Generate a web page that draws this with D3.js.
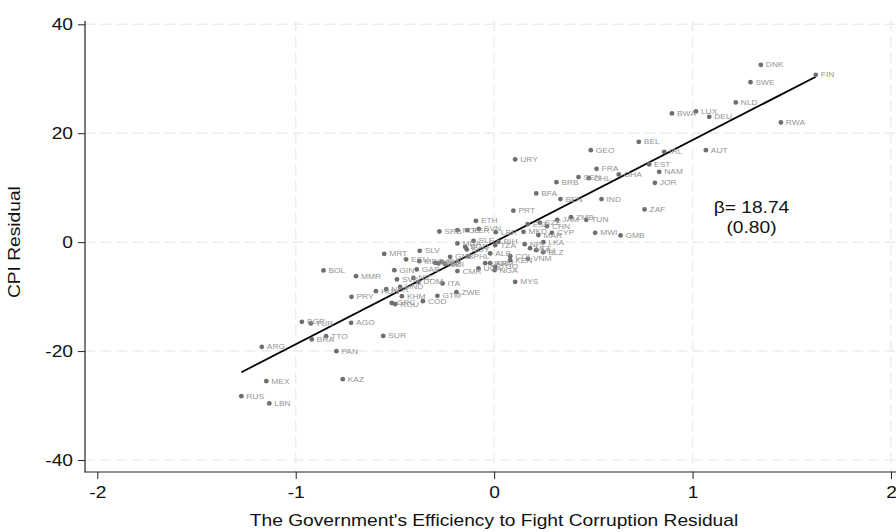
<!DOCTYPE html>
<html>
  <head>
    <meta charset="UTF-8">
    <title>CPI Residual vs Government Efficiency Residual</title>
    <style>
      body { margin: 0; background: #fff; }
      svg { display: block; font-family: "Liberation Sans", Arial, sans-serif; }
    </style>
  </head>
  <body>
    <svg></svg>
    <script src="https://d3js.org/d3.v7.min.js"></script>
    <script>

// country codes and their residuals
var countries = ["DNK","FIN","SWE","NLD","BWA","LUX","DEU","RWA","BEL","IRL","AUT","EST","NAM","GHA","JOR",
  "URY","GEO","FRA","SEN","CHL","BRB","BFA","BEN","IND","ZAF","PRT","ZMB","JAM","TUN","MWI","GMB",
  "ESP","CZE","CHN","LBR","MKD","MAR","CYP","LKA","NPL","MLT","MLI","BLZ","VNM","KEN","COL","ALB",
  "UGA","UKR","ARM","TGO","NGA","CMR","MYS","ITA","ZWE","GTM","ETH","SRB","POL","PER","SVN","PHL",
  "GNB","SLE","BIH","TZA","MDA","BGD","EGY","MRT","SLV","ECU","MDG","MNG","KGZ","IDN","BDI","GIN",
  "GAB","SVK","NIC","DOM","HUN","NER","HND","KHM","COD","GRC","ROU","BOL","MMR","PRY","BGR","TUR",
  "AGO","TTO","BRA","SUR","ARG","PAN","MEX","KAZ","RUS","LBN"];

var efficiency = [1.344,1.621,1.292,1.218,0.896,1.017,1.084,1.445,0.729,0.857,1.067,0.781,0.832,0.628,0.810,
  0.106,0.487,0.516,0.425,0.477,0.314,0.212,0.334,0.541,0.758,0.097,0.387,0.318,0.464,0.509,0.637,
  0.169,0.230,0.266,0.008,0.148,0.223,0.291,0.248,0.154,0.181,0.212,0.247,0.170,0.081,0.081,-0.020,
  -0.079,-0.045,-0.020,0.005,0.002,-0.185,0.106,-0.260,-0.190,-0.286,-0.092,-0.276,-0.185,-0.135,-0.077,-0.130,
  -0.222,-0.104,0.022,0.005,-0.185,-0.146,-0.138,-0.554,-0.375,-0.444,-0.377,-0.297,-0.281,-0.264,-0.247,-0.503,
  -0.390,-0.490,-0.407,-0.382,-0.596,-0.544,-0.474,-0.465,-0.359,-0.516,-0.499,-0.860,-0.696,-0.719,-0.969,-0.924,
  -0.721,-0.847,-0.919,-0.559,-1.171,-0.795,-1.148,-0.763,-1.274,-1.133];

var cpi = [32.56,30.72,29.38,25.65,23.63,24.00,23.01,21.98,18.42,16.58,16.89,14.27,12.91,12.43,10.89,
  15.19,16.89,13.46,11.94,11.75,11.02,8.94,7.90,7.90,6.00,5.78,4.59,4.09,4.09,1.71,1.23,
  3.31,3.60,2.94,1.84,1.89,1.29,1.71,0.00,-0.37,-1.10,-1.47,-1.84,-3.07,-3.31,-2.57,-2.07,
  -4.83,-3.86,-3.86,-4.54,-5.14,-5.32,-7.29,-7.58,-9.18,-9.86,3.91,1.96,2.20,2.20,2.44,-2.57,
  -2.70,0.24,0.06,-0.55,-0.24,-0.86,-1.34,-2.15,-1.60,-3.16,-3.49,-3.80,-3.91,-3.62,-4.04,-5.14,
  -5.01,-6.85,-6.56,-7.29,-9.00,-8.63,-8.21,-9.92,-10.83,-11.15,-11.38,-5.20,-6.24,-10.04,-14.63,-14.93,
  -14.82,-17.26,-17.87,-17.21,-19.22,-20.01,-25.52,-25.16,-28.28,-29.62];

var xTicks = [-2, -1, 0, 1, 2];
var yTicks = [-40, -20, 0, 20, 40];
var beta = 18.74;
var betaSE = 0.80;

var config = {
  width: 896,
  height: 532,
  left: 85,
  right: 896,
  top: 21,
  bottom: 472,
  fontSize: "16px",
  stretch: 1.2   // the reference text is drawn a bit wide
};

var data = countries.map(function(c, i) {
  return { name: c, x: efficiency[i], y: cpi[i] };
});

var svg = d3.select("svg")
  .attr("width", config.width)
  .attr("height", config.height);

var x = d3.scaleLinear().domain([-2, 2]).range([97.3, 891]);
var y = d3.scaleLinear().domain([-40, 40]).range([460, 24.3]);

// place a text at (px, py) and widen it horizontally
function wideText(sel, px, py, extra) {
  return sel.attr("transform", "translate(" + px + "," + py + ")" + (extra || "") +
    " scale(" + config.stretch + ",1)");
}

// grid lines
svg.append("g").selectAll("line")
  .data(yTicks)
  .enter().append("line")
    .attr("x1", config.left).attr("x2", config.right)
    .attr("y1", function(d) { return y(d); })
    .attr("y2", function(d) { return y(d); })
    .attr("stroke", "#ebebeb")
    .attr("stroke-width", 1.5)
    .attr("stroke-dasharray", "10,6");

svg.append("g").selectAll("line")
  .data(xTicks.filter(function(d) { return d > -2; }))
  .enter().append("line")
    .attr("x1", function(d) { return x(d); })
    .attr("x2", function(d) { return x(d); })
    .attr("y1", config.top).attr("y2", config.bottom)
    .attr("stroke", "#ebebeb")
    .attr("stroke-width", 1.5)
    .attr("stroke-dasharray", "10,6");

// axes
var yAxis = d3.axisLeft(y).tickValues(yTicks).tickSize(7).tickPadding(5)
  .tickFormat(function(d) { return String(d); });
var gy = svg.append("g")
  .attr("transform", "translate(" + config.left + ",0)")
  .call(yAxis);
gy.select(".domain").remove();
gy.selectAll(".tick text")
  .attr("x", -12 / config.stretch)
  .attr("transform", "scale(" + config.stretch + ",1)");
gy.append("line")
  .attr("y1", config.top).attr("y2", config.bottom + 0.5)
  .attr("stroke", "#222").attr("stroke-width", 1.2);

var xAxis = d3.axisBottom(x).tickValues(xTicks).tickSize(7).tickPadding(8)
  .tickFormat(function(d) { return String(d); });
var gx = svg.append("g")
  .attr("transform", "translate(0," + config.bottom + ")")
  .call(xAxis);
gx.select(".domain").remove();
gx.selectAll(".tick text")
  .attr("transform", "scale(" + config.stretch + ",1)");
gx.append("line")
  .attr("x1", config.left).attr("x2", config.right)
  .attr("stroke", "#222").attr("stroke-width", 1.2);

svg.selectAll(".tick line").attr("stroke", "#222").attr("stroke-width", 1);
svg.selectAll(".tick text")
  .attr("fill", "#111")
  .style("font-size", config.fontSize)
  .style("font-family", "'Liberation Sans', Arial, sans-serif");

// axis titles
svg.append("text")
  .call(wideText, 494, 526)
  .attr("text-anchor", "middle")
  .style("font-size", config.fontSize)
  .attr("fill", "#111")
  .text("The Government's Efficiency to Fight Corruption Residual");

svg.append("text")
  .call(wideText, 20, y(0), " rotate(-90)")
  .attr("text-anchor", "middle")
  .style("font-size", config.fontSize)
  .attr("fill", "#111")
  .text("CPI Residual");

// fitted line over the data range
var xExt = d3.extent(efficiency);
svg.append("line")
  .attr("x1", x(xExt[0])).attr("y1", y(beta * xExt[0]))
  .attr("x2", x(xExt[1])).attr("y2", y(beta * xExt[1]))
  .attr("stroke", "#000")
  .attr("stroke-width", 1.8);

// points and their labels
var pts = svg.append("g");
pts.selectAll("circle")
  .data(data)
  .enter().append("circle")
    .attr("cx", function(d) { return x(d.x); })
    .attr("cy", function(d) { return y(d.y); })
    .attr("r", 2.4)
    .attr("fill", "#6e6e6e");

pts.selectAll("text")
  .data(data)
  .enter().append("text")
    .attr("transform", function(d) {
      return "translate(" + (x(d.x) + 5) + "," + (y(d.y) + 2.6) + ") scale(" + config.stretch + ",1)";
    })
    .style("font-size", "7px")
    .attr("fill", "#939393")
    .text(function(d) { return d.name; });

// coefficient annotation
svg.append("text")
  .call(wideText, 751.5, 212.5)
  .attr("text-anchor", "middle")
  .style("font-size", config.fontSize)
  .attr("fill", "#111")
  .text("\u03B2= " + beta.toFixed(2));

svg.append("text")
  .call(wideText, 751.5, 232.5)
  .attr("text-anchor", "middle")
  .style("font-size", config.fontSize)
  .attr("fill", "#111")
  .text("(" + betaSE.toFixed(2) + ")");

    </script>
  </body>
</html>
